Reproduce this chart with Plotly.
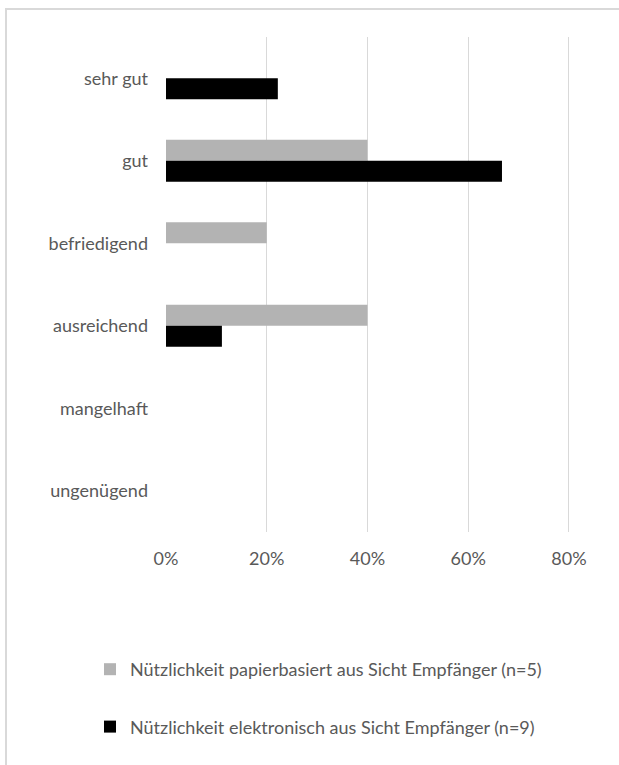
import plotly.graph_objects as go

categories = ["sehr gut", "gut", "befriedigend", "ausreichend", "mangelhaft", "ungenügend"]
paper_values = [0.0, 0.40, 0.20, 0.40, 0.0, 0.0]
electronic_values = [0.222, 0.667, 0.0, 0.111, 0.0, 0.0]
series_names = [
    "Nützlichkeit papierbasiert aus Sicht Empfänger (n=5)",
    "Nützlichkeit elektronisch aus Sicht Empfänger (n=9)",
]
tick_values = [0, 0.2, 0.4, 0.6, 0.8]
tick_labels = ["0%", "20%", "40%", "60%", "80%"]

W, H = 619, 765
L, R, T, B = 166, 47, 37, 233
FONT = "Lato"
TXT = "#595959"

fig = go.Figure()
fig.add_trace(go.Bar(y=categories, x=paper_values, orientation="h", name=series_names[0],
                     marker=dict(color="#b3b3b3", line=dict(width=0)), legendgroup="a"))
fig.add_trace(go.Bar(y=categories, x=electronic_values, orientation="h", name=series_names[1],
                     marker=dict(color="#000000", line=dict(width=0)), legendgroup="b"))

pw = W - L - R
ph = H - T - B
bx0 = (6 - L) / pw
by1 = (H - B - 9) / ph
fig.add_shape(type="rect", xref="paper", yref="paper", x0=bx0, x1=(W + 20 - L) / pw,
              y0=-(B + 40) / ph, y1=by1, line=dict(color="#d9d9d9", width=2), layer="below")

fig.update_layout(
    width=W, height=H,
    margin=dict(l=L, r=R, t=T, b=B, autoexpand=False),
    paper_bgcolor="white", plot_bgcolor="white",
    barmode="group", bargap=0.49, bargroupgap=0,
    font=dict(family=FONT, color=TXT, size=18),
    showlegend=True,
    legend=dict(orientation="v",
                x=(90 - L) / pw, xanchor="left", y=-(651 - (H - B)) / ph, yanchor="top",
                traceorder="grouped", tracegroupgap=31,
                font=dict(family=FONT, size=18, color=TXT), bgcolor="rgba(0,0,0,0)"),
    xaxis=dict(range=[0, 0.806], tickvals=tick_values, ticktext=tick_labels, tickangle=0,
               showgrid=True, gridcolor="#d9d9d9", gridwidth=1, zeroline=False,
               showline=False, ticks="", ticklabelstandoff=14, automargin=False,
               tickfont=dict(family=FONT, size=18, color=TXT), fixedrange=True),
    yaxis=dict(autorange="reversed", showgrid=False, zeroline=False, showline=False,
               ticks="", ticklabelstandoff=17, automargin=False,
               tickfont=dict(family=FONT, size=18, color=TXT), fixedrange=True),
)

fig.write_html("out.html", config={"displayModeBar": False},
               post_script="document.body.style.margin='0';")
